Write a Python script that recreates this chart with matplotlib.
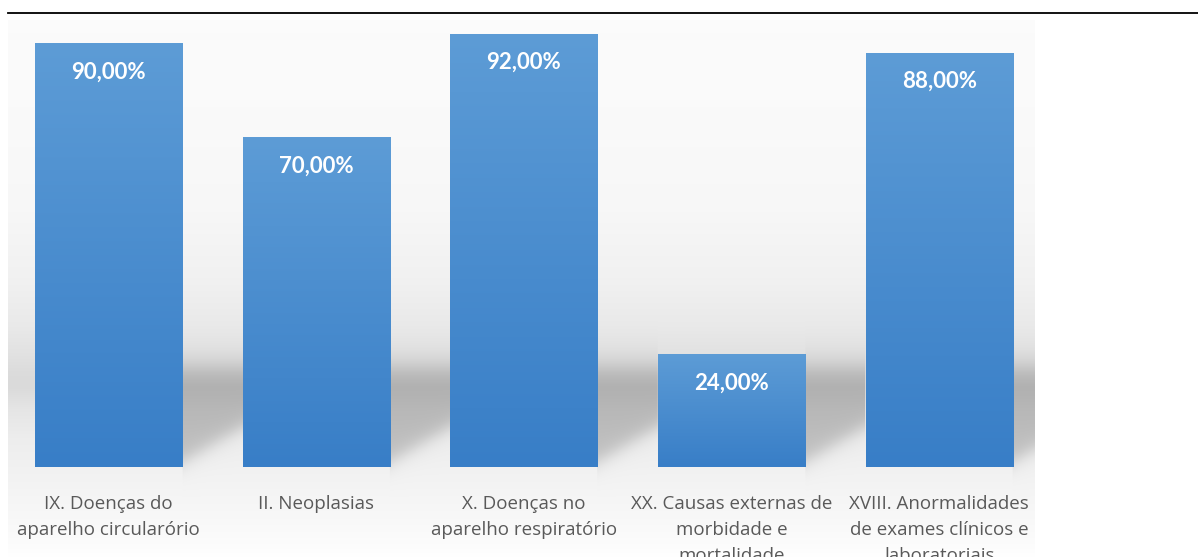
import numpy as np
import matplotlib.pyplot as plt
from matplotlib.lines import Line2D

# Data
categorias = [
    'IX. Doenças do\naparelho circularório',
    'II. Neoplasias',
    'X. Doenças no\naparelho respiratório',
    'XX. Causas externas de\nmorbidade e\nmortalidade',
    'XVIII. Anormalidades\nde exames clínicos e\nlaboratoriais',
]
valores = [90.0, 70.0, 92.0, 24.0, 88.0]
rotulos = ['90,00%', '70,00%', '92,00%', '24,00%', '88,00%']

plt.rcParams['font.family'] = ['Lato', 'DejaVu Sans']

W, H = 1198, 557
fig = plt.figure(figsize=(W / 100, H / 100), dpi=100)
fig.patch.set_facecolor('white')

# plot area in pixels: x 8..1035, y 20..557
ax = fig.add_axes([8 / W, 0, (1035 - 8) / W, (557 - 20) / H])
xlim = (-0.4839, 4.4608)
ylim = (-19.1, 94.9)
ax.axis('off')

largura = 0.708
gap = 1 - largura

# background wall/floor with soft shadows behind bars
xs = np.linspace(xlim[0], xlim[1], 1100)
vs = np.linspace(ylim[1], ylim[0], 560)
X, V = np.meshgrid(xs, vs)
vp = [-19.1, -17, -12, -4, 0, 6, 12, 17, 20, 24, 30, 40, 55, 75, 94.9]
bp = [1.0, 0.99, 0.975, 0.955, 0.945, 0.93, 0.90, 0.855, 0.86, 0.885, 0.915, 0.945, 0.97, 0.98, 0.985]
B = np.interp(V, vp, bp)


def sig(z):
    return 1 / (1 + np.exp(-z))


sombra = np.zeros_like(B)
for i in range(len(valores)):
    r = i + largura / 2
    dx = X - r
    fim = gap if i < len(valores) - 1 else 1.0
    dentro = (dx > 0) & (dx < fim)
    v_top = min(21.0, valores[i])
    v_bot = 1.0 + 7.5 * np.clip(dx / gap, 0, 1)
    s = sig((v_top - V) / 1.6) * sig((V - v_bot) / 1.2)
    sombra = np.maximum(sombra, np.where(dentro, s, 0))
B = B * (1 - 0.2 * sombra)
img = np.dstack([B, B, B])
ax.imshow(img, extent=(xlim[0], xlim[1], ylim[0], ylim[1]), aspect='auto',
          origin='upper', zorder=0, interpolation='bilinear')

# bars with vertical gradient
x = np.arange(len(valores))
barras = ax.bar(x, valores, width=largura, color='none', edgecolor='none', zorder=2)
topo = np.array([93, 156, 214]) / 255
base = np.array([56, 126, 199]) / 255
t = np.linspace(0, 1, 200)[:, None]
grad = (topo * (1 - t) + base * t)[:, None, :]
for b, v, lab in zip(barras, valores, rotulos):
    x0 = b.get_x()
    im = ax.imshow(grad, extent=(x0, x0 + b.get_width(), 0, v), aspect='auto',
                   origin='upper', zorder=2)
    im.set_clip_path(b)
    ax.text(b.get_x() + b.get_width() / 2, v - 6.1, lab, ha='center', va='center',
            color='white', fontsize=16, fontweight='bold', zorder=3)

for xi, cat in zip(x, categorias):
    ax.text(xi, -5.9, cat, ha='center', va='top', color='#595959',
            fontsize=13.5, linespacing=1.56, zorder=3,
            family=['Open Sans', 'DejaVu Sans'])

ax.set_xlim(*xlim)
ax.set_ylim(*ylim)

# top rule
fig.add_artist(Line2D([8 / W, 1.0], [1 - 13 / H, 1 - 13 / H], color='black', lw=1.3))

fig.savefig('out.png', dpi=100, facecolor='white')
